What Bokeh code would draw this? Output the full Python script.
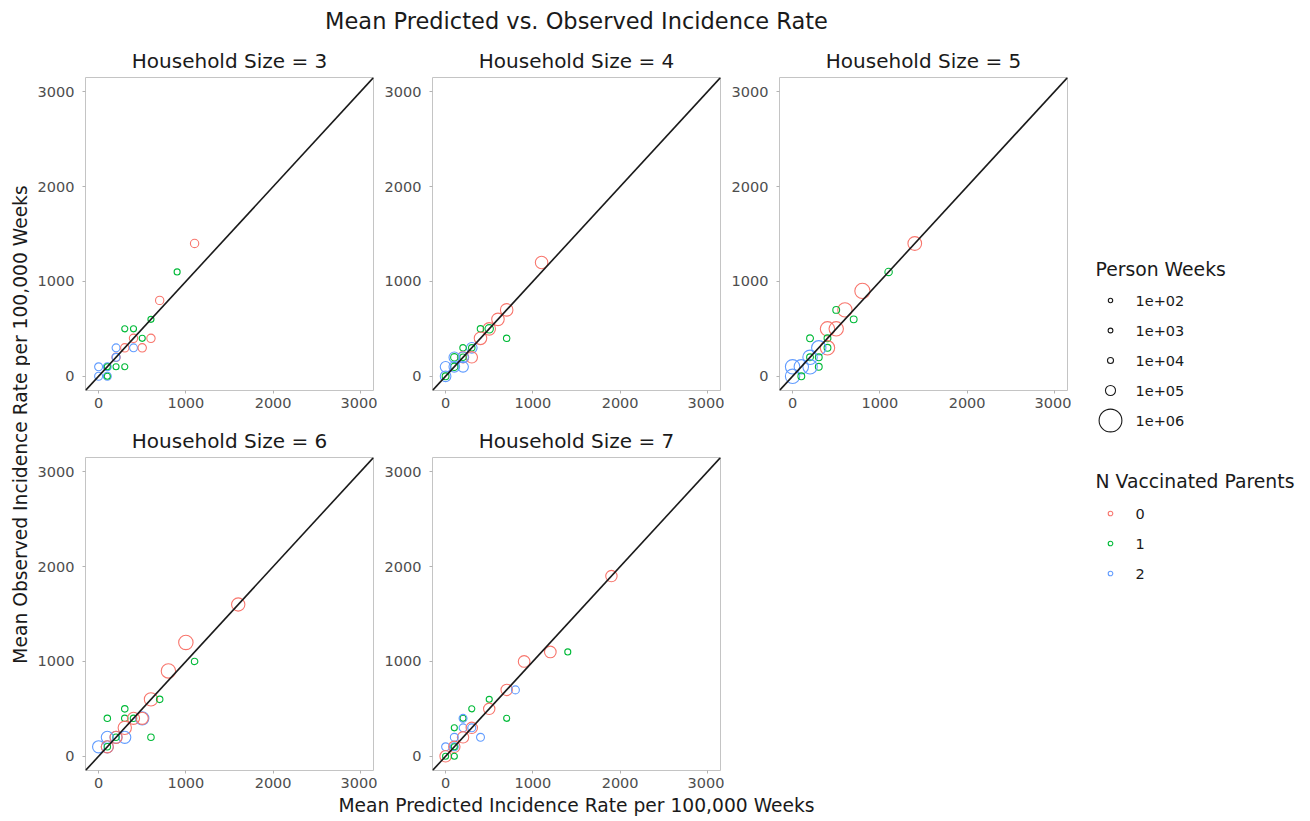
import numpy as np
from bokeh.plotting import figure
from bokeh.layouts import row, column, Spacer
from bokeh.models import Range1d, FixedTicker, Slope, ColumnDataSource
from bokeh.transform import factor_cmap
from bokeh.embed import file_html
from bokeh.resources import INLINE
from bokeh.core.properties import value

FONT = "DejaVu Sans"

# ---------------- data ----------------
hh_sizes = [3, 4, 5, 6, 7]

hh3_pred = [1100, 900, 700, 600, 300, 400, 400, 500, 600, 200, 300, 400, 500, 200, 200, 200, 300, 0, 100, 100, 0, 100, 100]
hh3_obs  = [1400, 1100, 800, 600, 500, 500, 400, 400, 400, 300, 300, 300, 300, 200, 200, 100, 100, 100, 100, 100, 0, 0, 0]
hh3_nvac = [0, 1, 0, 1, 1, 1, 0, 1, 0, 2, 0, 2, 0, 0, 2, 1, 1, 2, 2, 1, 2, 2, 1]
hh3_pw   = [5e4, 1e4, 5e4, 1e4, 1e4, 1e4, 5e4, 1e4, 5e4, 4e4, 5e4, 4e4, 5e4, 5e4, 4e4, 1e4, 1e4, 4e4, 4e4, 1e4, 4e4, 4e4, 1e4]

hh4_pred = [1100, 700, 600, 500, 500, 400, 400, 700, 300, 300, 300, 200, 200, 200, 200, 100, 100, 200, 100, 100, 0, 0, 0]
hh4_obs  = [1200, 700, 600, 500, 500, 500, 400, 400, 300, 300, 200, 300, 200, 200, 200, 200, 200, 100, 100, 100, 100, 0, 0]
hh4_nvac = [0, 0, 0, 0, 1, 1, 0, 1, 2, 1, 0, 1, 0, 2, 1, 2, 1, 2, 2, 1, 2, 2, 1]
hh4_pw   = [2e5, 2e5, 2e5, 2e5, 5e4, 1.5e4, 2e5, 1.5e4, 1.2e5, 1.5e4, 1.5e5, 1.5e4, 1.5e5, 1.2e5, 1.5e4, 1.2e5, 3e4, 1.2e5, 1.2e5, 3e4, 1.2e5, 1.2e5, 2e4]

hh5_pred = [1400, 1100, 800, 600, 500, 700, 400, 500, 400, 200, 400, 400, 300, 300, 200, 200, 100, 300, 0, 0, 100, 200]
hh5_obs  = [1400, 1100, 900, 700, 700, 600, 500, 500, 400, 400, 300, 300, 300, 200, 200, 200, 100, 100, 100, 0, 0, 100]
hh5_nvac = [0, 1, 0, 0, 1, 1, 0, 0, 1, 1, 0, 1, 2, 1, 1, 2, 2, 1, 2, 2, 1, 2]
hh5_pw   = [2.6e5, 3e4, 3.5e5, 3e5, 2e4, 2e4, 3e5, 3e5, 2e4, 2e4, 3e5, 2e4, 3e5, 2e4, 2e4, 3e5, 3e5, 2e4, 3e5, 3e5, 2e4, 3e5]

hh6_pred = [1600, 1000, 1100, 800, 600, 700, 300, 100, 300, 400, 400, 500, 500, 300, 600, 300, 200, 200, 200, 100, 0, 100, 100, 100]
hh6_obs  = [1600, 1200, 1000, 900, 600, 600, 500, 400, 400, 400, 400, 400, 400, 300, 200, 200, 200, 200, 200, 200, 100, 100, 100, 100]
hh6_nvac = [0, 0, 1, 0, 0, 1, 1, 1, 1, 0, 1, 2, 0, 0, 1, 2, 2, 0, 1, 2, 2, 2, 0, 1]
hh6_pw   = [2.4e5, 3e5, 1.5e4, 3e5, 2.4e5, 1.5e4, 1.5e4, 1.5e4, 1.5e4, 1.8e5, 1.5e4, 2.4e5, 1.8e5, 2.4e5, 1.5e4, 1.8e5, 1.8e5, 1.8e5, 1.5e4, 1.8e5, 1.8e5, 1.8e5, 1.8e5, 1.5e4]

hh7_pred = [1900, 1400, 1200, 900, 700, 800, 500, 500, 300, 700, 200, 200, 100, 200, 300, 300, 200, 100, 400, 0, 100, 100, 100, 0, 0, 100]
hh7_obs  = [1900, 1100, 1100, 1000, 700, 700, 600, 500, 500, 400, 400, 400, 300, 300, 300, 300, 200, 200, 200, 100, 100, 100, 100, 0, 0, 0]
hh7_nvac = [0, 1, 0, 0, 0, 2, 1, 0, 1, 1, 1, 2, 1, 2, 0, 2, 0, 2, 2, 2, 0, 2, 1, 0, 1, 1]
hh7_pw   = [1.5e5, 1e4, 1.6e5, 1.6e5, 1.5e5, 4e4, 1e4, 1.5e5, 1e4, 1e4, 1e4, 4e4, 1e4, 4e4, 1.5e5, 4e4, 1.5e5, 4e4, 4e4, 4e4, 1.5e5, 4e4, 1e4, 1.5e5, 1e4, 1e4]

axis_ticks = [0, 1000, 2000, 3000]
nvac_levels = ["0", "1", "2"]
nvac_colors = ["#F8766D", "#00BA38", "#619CFF"]
pw_breaks = [1e2, 1e3, 1e4, 1e5, 1e6]
pw_break_labels = ["1e+02", "1e+03", "1e+04", "1e+05", "1e+06"]

title_text = "Mean Predicted vs. Observed Incidence Rate"
xlab_text = "Mean Predicted Incidence Rate per 100,000 Weeks"
ylab_text = "Mean Observed Incidence Rate per 100,000 Weeks"

panels_data = {
    3: (hh3_pred, hh3_obs, hh3_nvac, hh3_pw),
    4: (hh4_pred, hh4_obs, hh4_nvac, hh4_pw),
    5: (hh5_pred, hh5_obs, hh5_nvac, hh5_pw),
    6: (hh6_pred, hh6_obs, hh6_nvac, hh6_pw),
    7: (hh7_pred, hh7_obs, hh7_nvac, hh7_pw),
}


def size_scale(pw):
    pw = np.asarray(pw, dtype=float)
    return 4.2 + 18.6 * np.sqrt(pw / 1e6)


def blank(width, height):
    f = figure(width=width, height=height, x_range=Range1d(0, width),
               y_range=Range1d(height, 0),
               min_border=0, toolbar_location=None, tools="", output_backend="svg")
    f.axis.visible = False
    f.grid.visible = False
    f.outline_line_color = None
    f.background_fill_color = "white"
    f.border_fill_color = "white"
    return f


def panel(hh, bottom):
    pred, obs, nvac, pw = panels_data[hh]
    p = figure(frame_width=288, frame_height=313,
               min_border_left=55, min_border_right=4, min_border_top=37,
               min_border_bottom=bottom,
               x_range=Range1d(-150, 3150), y_range=Range1d(-150, 3150),
               toolbar_location=None, tools="", output_backend="svg")
    p.title.text = f"Household Size = {hh}"
    p.title.align = "center"
    p.title.text_font = FONT
    p.title.text_font_size = "20px"
    p.title.text_font_style = "normal"
    p.title.text_color = "#1A1A1A"
    p.title.standoff = 9
    p.grid.visible = False
    p.outline_line_color = "#C4C4C4"
    p.outline_line_width = 1
    p.background_fill_color = "white"
    p.border_fill_color = "white"
    for ax in (p.xaxis, p.yaxis):
        ax.ticker = FixedTicker(ticks=axis_ticks)
        ax.axis_line_color = None
        ax.minor_tick_line_color = None
        ax.major_tick_line_color = "#B3B3B3"
        ax.major_tick_out = 3
        ax.major_tick_in = 0
        ax.major_label_text_font = FONT
        ax.major_label_text_font_size = "14.5px"
        ax.major_label_text_color = "#4D4D4D"
    p.yaxis.major_label_standoff = 8
    p.xaxis.major_label_standoff = 4
    src = ColumnDataSource(dict(
        pred=pred, obs=obs, nvac=[str(v) for v in nvac], size=size_scale(pw)))
    p.scatter("pred", "obs", size="size", marker="circle", source=src,
              fill_color=None, line_width=1.1,
              line_color=factor_cmap("nvac", nvac_colors, nvac_levels))
    p.add_layout(Slope(gradient=1, y_intercept=0, line_color="#1A1A1A", line_width=1.6))
    return p


# title
title_fig = blank(1310, 40)
title_fig.text(x=[576], y=[20], text=[title_text], text_align="center",
               text_baseline="middle", text_font=value(FONT),
               text_font_size="22.5px", text_color="#1A1A1A")

# y label
ylab_fig = blank(30, 755)
ylab_fig.text(x=[20], y=[384], text=[ylab_text], text_align="center",
              text_baseline="middle", angle=np.pi / 2, text_font=value(FONT),
              text_font_size="18.7px", text_color="#1A1A1A")

# x label
xlab_fig = blank(1310, 26)
xlab_fig.text(x=[576], y=[10], text=[xlab_text], text_align="center",
              text_baseline="middle", text_font=value(FONT),
              text_font_size="18.7px", text_color="#1A1A1A")

# legend
leg = blank(239, 755)
leg.text(x=[24], y=[229], text=["Person Weeks"], text_align="left",
         text_baseline="middle", text_font=value(FONT), text_font_size="18.8px",
         text_color="#1A1A1A")
pw_y = [260 + 30 * i for i in range(len(pw_breaks))]
leg.scatter(x=[39] * len(pw_breaks), y=pw_y, size=size_scale(pw_breaks),
            marker="circle", fill_color=None, line_color="#1A1A1A", line_width=1.1)
leg.text(x=[64] * len(pw_breaks), y=pw_y, text=pw_break_labels, text_align="left",
         text_baseline="middle", text_font=value(FONT), text_font_size="14.5px",
         text_color="#1A1A1A")
leg.text(x=[24], y=[441], text=["N Vaccinated Parents"], text_align="left",
         text_baseline="middle", text_font=value(FONT), text_font_size="18.8px",
         text_color="#1A1A1A")
nv_y = [473 + 30 * i for i in range(len(nvac_levels))]
leg.scatter(x=[39] * len(nvac_levels), y=nv_y, size=4.6, marker="circle",
            fill_color=None, line_color=nvac_colors, line_width=1.1)
leg.text(x=[64] * len(nvac_levels), y=nv_y, text=nvac_levels, text_align="left",
         text_baseline="middle", text_font=value(FONT), text_font_size="14.5px",
         text_color="#1A1A1A")

row1 = row(panel(3, 30), panel(4, 30), panel(5, 30))
row2 = row(panel(6, 25), panel(7, 25), Spacer(width=347, height=375))
grid = column(row1, row2)
layout = column(title_fig, row(ylab_fig, grid, leg), xlab_fig)

open("out.html", "w").write(file_html(layout, INLINE))
